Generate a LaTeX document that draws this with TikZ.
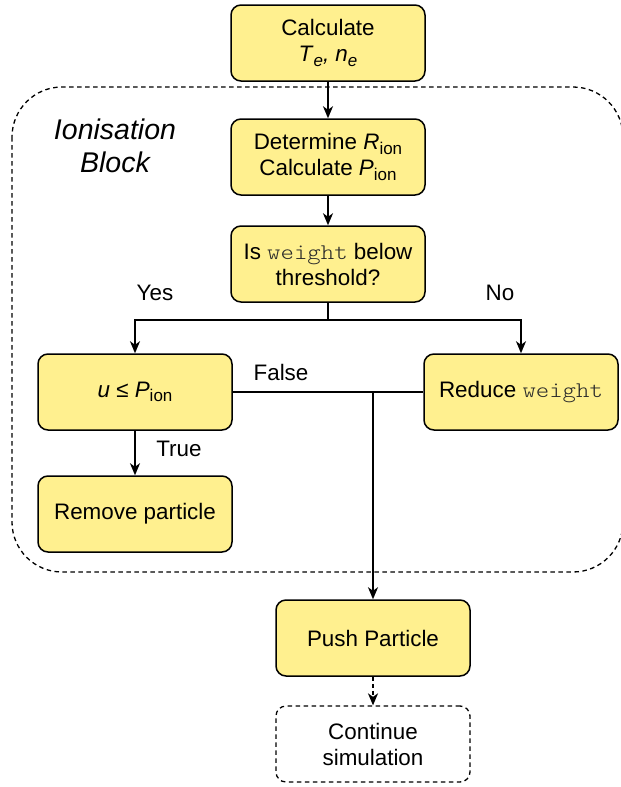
\documentclass[tikz,border=0pt]{standalone}
\usepackage{fontspec}
\setmainfont{Liberation Sans}
\newfontfamily\codefont[FakeStretch=1.14]{Latin Modern Mono Light}
\usetikzlibrary{arrows.meta}
\definecolor{boxfill}{HTML}{FFF08F}
\definecolor{codegray}{HTML}{2A2A2A}
% lowered subscript in upright or italic text
\newcommand{\lowsub}[1]{\raisebox{-0.35ex}{\fontsize{17}{17}\selectfont #1}}
\newcommand{\code}[1]{{\codefont\color{codegray}#1}}
\begin{document}
\begin{tikzpicture}[x=1pt,y=-1pt,
  proc/.style={draw, line width=1.5pt, fill=boxfill, rounded corners=10pt,
    minimum width=194pt, minimum height=76pt, inner sep=0pt, align=center,
    font=\fontsize{22.4}{26}\selectfont},
  endbox/.style={proc, fill=white, dash pattern=on 4.5pt off 3.5pt, line width=1.3pt},
  lbl/.style={font=\fontsize{22.4}{26}\selectfont, inner sep=0pt},
  arr/.style={line width=1.5pt, -{Stealth[length=12pt,width=10pt,inset=3.5pt]}},
  link/.style={line width=1.5pt}
]
\useasboundingbox (0,0) rectangle (621,787);

% ionisation block outline
\draw[line width=1.3pt, dash pattern=on 4.5pt off 3.5pt, rounded corners=50pt]
  (12,87) rectangle (623,572);
\node[font=\fontsize{28.5}{33}\selectfont\itshape, align=center] (blocklabel) at (115,146)
  {Ionisation\\Block};

% process boxes
\node[proc] (calc) at (328,43) {Calculate\\\textit{T}\lowsub{\itshape e}\textit{, n}\lowsub{\itshape e}};
\node[proc] (det) at (328,157) {Determine \textit{R}\lowsub{ion}\\Calculate \textit{P}\lowsub{ion}};
\node[proc] (isw) at (328,264) {Is \code{weight} below\\threshold?};
\node[proc] (ucmp) at (135,392) {\textit{u} ≤ \textit{P}\lowsub{ion}};
\node[proc] (red) at (521,392) {Reduce \code{weight}};
\node[proc] (rem) at (135,514) {Remove particle};
\node[proc] (push) at (373,638) {Push Particle};
\node[endbox] (cont) at (373,744) {Continue\\simulation};

% connectors
\coordinate (split) at (328,320);
\coordinate (join) at (push.north |- ucmp.east);
\draw[arr] (calc) -- (det);
\draw[arr] (det) -- (isw);
\draw[link] (isw) -- (split);
\draw[arr] (split) -| (ucmp.north);
\draw[arr] (split) -| (red.north);
\draw[link] (ucmp.east) -- (red.west);
\draw[arr] (join) -- (push.north);
\draw[arr] (ucmp) -- (rem);
\draw[arr, dash pattern=on 4pt off 3pt] (push) -- (cont);

% branch labels
\node[lbl] (yes) at (155,293) {Yes};
\node[lbl] (no) at (500,293) {No};
\node[lbl] (false) at (281,372) {False};
\node[lbl] (true) at (179,449) {True};
\end{tikzpicture}
\end{document}
